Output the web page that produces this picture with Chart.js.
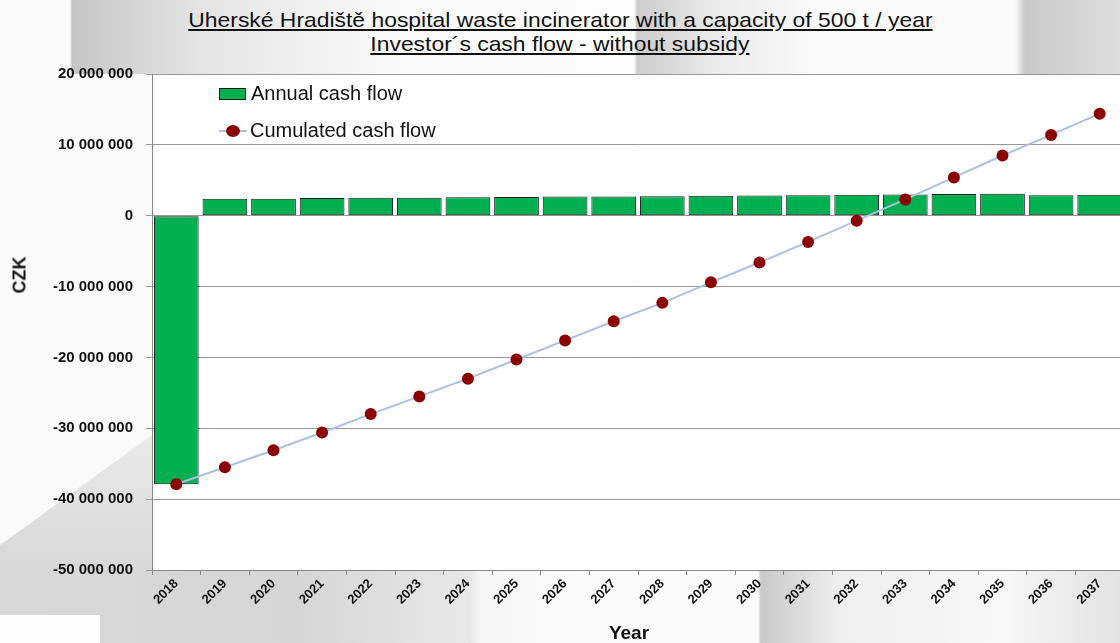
<!DOCTYPE html>
<html>
<head>
<meta charset="utf-8">
<script src="https://cdn.jsdelivr.net/npm/chart.js@4.4.1/dist/chart.umd.min.js"></script>
<style>
  html, body { margin: 0; padding: 0; overflow: hidden; }
  body {
    width: 1120px; height: 643px; position: relative; background: #fafafa;
    font-family: "Liberation Sans", Arial, sans-serif;
  }
  .bg { position: absolute; }
  #bgTop {
    left: 0; top: 0; width: 1120px; height: 74px;
    background: linear-gradient(90deg, #fbfbfb 0px, #fbfbfb 70px, #c6c6c6 72px, #e4e4e4 200px, #f8f8f8 380px, #fdfdfd 634px, #cdcdcd 637px, #ececec 720px, #fbfbfb 830px, #fbfbfb 1015px, #c9c9c9 1025px, #dedede 1120px);
  }
  #bgTri {
    left: 0; top: 420px; width: 152px; height: 150px;
    background: linear-gradient(180deg, #ececec, #d8d8d8);
    clip-path: polygon(0 125px, 152px 15px, 152px 150px, 0 150px);
  }
  #bgBottom {
    left: 0; top: 570px; width: 1120px; height: 73px;
    background: linear-gradient(90deg, #d8d8d8 0px, #d6d6d6 300px, #e8e8e8 470px, #f6f6f6 480px, #fbfbfb 600px, #fbfbfb 758px, #c9c9c9 761px, #efefef 840px, #f8f8f8 1000px, #e2e2e2 1120px);
  }
  #bgBox { left: 0; top: 615px; width: 100px; height: 28px; background: #fdfdfd; }
  #title {
    position: absolute; left: 0; width: 1120px; top: 8px;
    text-align: center; font-size: 21px; line-height: 24px; color: #111;
  }
  #title span { text-decoration: underline; display: inline-block; transform: scaleX(1.09); }
  #wrap { position: absolute; left: 0; top: 0; width: 1130px; height: 643px; }
  #legend { position: absolute; left: 219px; top: 75px; font-size: 20px; color: #111; }
  .item { height: 37px; display: flex; align-items: center; }
  .box { width: 25px; height: 10px; background: #00b050; border: 1px solid #1a1a1a; margin-right: 5px; }
  .lineKey { position: relative; width: 28px; height: 14px; margin-right: 3px; }
  .lineKey i { position: absolute; left: 0; top: 6px; width: 28px; height: 2px; background: #aac0e4; }
  .lineKey b { position: absolute; left: 7px; top: 1px; width: 14px; height: 12px; border-radius: 50%; background: #8b0000; }
  #czk {
    position: absolute; left: 20px; top: 275px; font-size: 18px; font-weight: bold; color: #111;
    transform: translate(-50%, -50%) rotate(-90deg);
  }
  #year {
    position: absolute; left: 629px; top: 633px; font-size: 19px; font-weight: bold; color: #111;
    transform: translate(-50%, -50%);
  }
</style>
</head>
<body>
<div class="bg" id="bgTop"></div>
<div class="bg" id="bgTri"></div>
<div class="bg" id="bgBottom"></div>
<div class="bg" id="bgBox"></div>
<div id="title"><span>Uherské Hradiště hospital waste incinerator with a capacity of 500 t / year</span><br><span>Investor´s cash flow - without subsidy</span></div>
<div id="wrap"><canvas id="chart"></canvas></div>
<div id="legend"></div>
<div id="czk">CZK</div>
<div id="year">Year</div>
<script>
let years = ["2018","2019","2020","2021","2022","2023","2024","2025","2026","2027",
             "2028","2029","2030","2031","2032","2033","2034","2035","2036","2037"];
let annualCashFlow = [-37900000, 2400000, 2400000, 2500000, 2550000, 2550000, 2600000, 2650000, 2700000, 2700000,
                      2750000, 2800000, 2850000, 2900000, 2950000, 3000000, 3050000, 3100000, 2900000, 2950000];
let cumulatedCashFlow = [-37900000, -35500000, -33100000, -30600000, -28000000, -25500000, -23000000, -20300000, -17600000, -14900000,
                         -12300000, -9400000, -6600000, -3700000, -700000, 2300000, 5400000, 8500000, 11400000, 14400000];
let yTicks = [20000000, 10000000, 0, -10000000, -20000000, -30000000, -40000000, -50000000];

function fmt(v) {
    let s = String(Math.abs(v)).replace(/\B(?=(\d{3})+(?!\d))/g, " ");
    return (v < 0 ? "-" : "") + s;
}

let whiteArea = {
    id: "whiteArea",
    beforeDraw: function(chart) {
        let a = chart.chartArea;
        chart.ctx.save();
        chart.ctx.fillStyle = "#ffffff";
        chart.ctx.fillRect(a.left, a.top, a.right - a.left, a.bottom - a.top);
        chart.ctx.restore();
    }
};

let canvas = document.getElementById("chart");
canvas.width = 1130;
canvas.height = 643;

let chart = new Chart(canvas, {
    type: "bar",
    plugins: [whiteArea],
    data: {
        labels: years,
        datasets: [{
                type: "line",
                label: "Cumulated cash flow",
                data: cumulatedCashFlow,
                borderColor: "#aac0e4",
                borderWidth: 2,
                pointBackgroundColor: "#8b0000",
                pointBorderColor: "#8b0000",
                pointBorderWidth: 0,
                pointRadius: 6,
                tension: 0,
                order: 0
            }, {
                type: "bar",
                label: "Annual cash flow",
                data: annualCashFlow,
                backgroundColor: "#00b050",
                borderColor: "#1a1a1a",
                borderWidth: 1,
                borderSkipped: false,
                barPercentage: 0.92,
                categoryPercentage: 1,
                order: 1
            }
        ]
    },
    options: {
        responsive: false,
        animation: false,
        layout: { padding: { top: 74, right: 2, left: 0, bottom: 0 } },
        plugins: {
            legend: { display: false },
            tooltip: { enabled: false }
        },
        scales: {
            x: {
                offset: true,
                grid: { display: true, drawOnChartArea: false, offset: true, tickLength: 5, color: "#888" },
                border: { color: "#888" },
                ticks: {
                    minRotation: 45, maxRotation: 45, padding: 1,
                    color: "#111", font: { family: "Liberation Sans", size: 13, weight: "bold" }
                },
                afterFit: function(scale) { scale.height = 73; }
            },
            y: {
                min: -50000000, max: 20000000,
                afterBuildTicks: function(scale) { scale.ticks = yTicks.map(v => ({ value: v })); },
                grid: { color: "#999", tickLength: 6 },
                border: { color: "#888" },
                ticks: {
                    padding: 13, color: "#111",
                    font: { family: "Liberation Sans", size: 15, weight: "bold" },
                    callback: function(v) { return fmt(v); }
                },
                afterFit: function(scale) { scale.width = 152; }
            }
        }
    }
});

// legend from dataset labels
let lg = document.getElementById("legend");
chart.data.datasets.slice().reverse().forEach(function(ds) {
    let key = ds.type === "bar" ? '<span class="box"></span>' : '<span class="lineKey"><i></i><b></b></span>';
    lg.innerHTML += '<div class="item">' + key + '<span>' + ds.label + '</span></div>';
});
</script>
</body>
</html>
